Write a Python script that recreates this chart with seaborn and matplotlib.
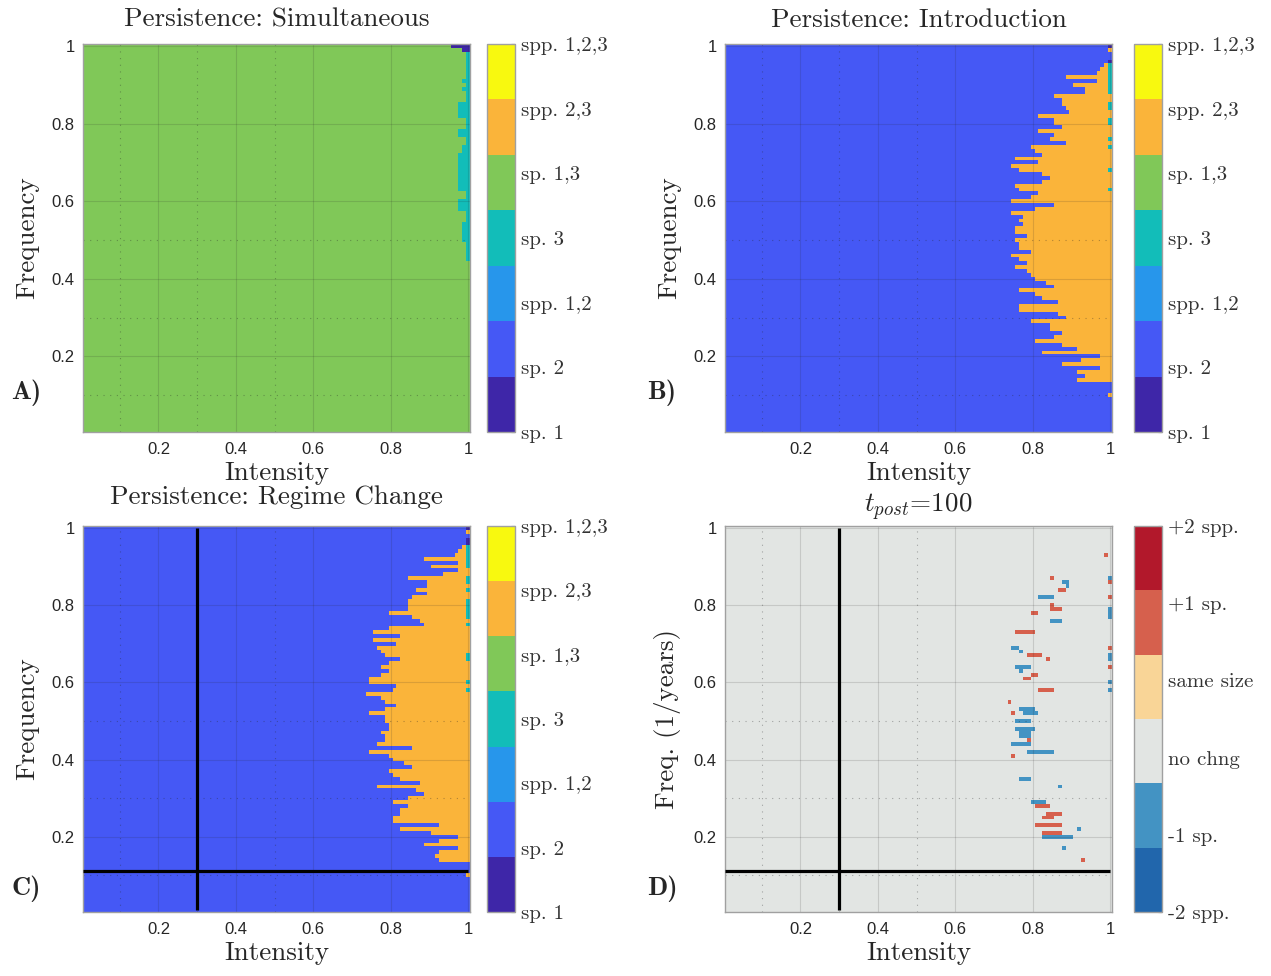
import numpy as np
import pandas as pd
import matplotlib
matplotlib.use("Agg")
import matplotlib.pyplot as plt
from matplotlib.colors import ListedColormap
import seaborn as sns

sns.set_theme(style="white")
plt.rcParams["font.family"] = ["Liberation Sans", "DejaVu Sans"]
plt.rcParams["mathtext.fontset"] = "cm"
plt.rcParams["axes.unicode_minus"] = False

SERIF = "cmr10"
SERIF_BOLD = "cmb10"

# ---------------------------------------------------------------------------
# Parameter grid (100 x 100): intensity along x, frequency along y (top row first)
# ---------------------------------------------------------------------------
intensity = np.round(np.arange(1, 101) / 100, 2)
frequency = np.round(np.arange(100, 0, -1) / 100, 2)

axis_ticks = [0.2, 0.4, 0.6, 0.8, 1.0]
axis_tick_labels = ["0.2", "0.4", "0.6", "0.8", "1"]
minor_grid = [0.1, 0.3, 0.5]

# Community states (codes 1..7)
state_labels = ["sp. 1", "sp. 2", "spp. 1,2", "sp. 3", "sp. 1,3", "spp. 2,3", "spp. 1,2,3"]
state_colors = ["#3e26a8", "#4558f5", "#2796eb", "#12bdb9", "#80c858", "#fab43a", "#f8f90f"]
SP1, SP2, SP12, SP3, SP13, SP23, SP123 = 1, 2, 3, 4, 5, 6, 7

# Change in community (codes 0..5)
change_labels = ["-2 spp.", "-1 sp.", "no chng", "same size", "+1 sp.", "+2 spp."]
change_colors = ["#2166ac", "#4393c3", "#e2e5e3", "#f9d597", "#d6604d", "#b2182b"]
LOSS1, NOCHANGE, GAIN1 = 1, 2, 4

# --- Simultaneous: sp. 1,3 everywhere, sp. 3 along the high-intensity edge
sim_sp1_freq = [1.00, 0.99]
sim_sp1_from = [0.96, 0.99]
sim_sp3_top = 0.98
sim_sp3_width = [1, 1, 1, 1, 1, 1, 1, 2, 1, 2, 1, 1, 1, 3, 3, 3, 3, 1, 1, 1,
                 3, 3, 1, 1, 2, 2, 3, 3, 3, 3, 3, 3, 3, 3, 3, 3, 1, 1, 3, 3,
                 3, 1, 1, 1, 2, 2, 2, 2, 2, 1, 1, 1, 1, 1]

# --- Introduction: intensity at which spp. 2,3 takes over (rows from freq 0.95 down)
intro_top = 0.95
intro_onset = [0.99, 0.98, 0.97, 0.89, 0.97, 0.91, 0.94, 0.94, 0.86, 0.88,
               0.88, 0.89, 0.90, 0.82, 0.86, 0.86, 0.88, 0.82, 0.86, 0.85,
               0.89, 0.80, 0.81, 0.83, 0.76, 0.82, 0.75, 0.77, 0.83,
               0.85, 0.83, 0.76, 0.77, 0.82, 0.80, 0.75, 0.86, 0.81, 0.75,
               0.78, 0.77, 0.78, 0.76, 0.76, 0.79, 0.76, 0.77, 0.77, 0.80,
               0.75, 0.77, 0.79, 0.76, 0.79, 0.80, 0.81, 0.84, 0.86, 0.77,
               0.81, 0.83, 0.87, 0.77,
               0.77, 0.87, 0.89, 0.80, 0.85, 0.85, 0.88, 0.86, 0.81, 0.88,
               0.92, 0.83, 0.98, 0.93, 0.88, 0.98, 0.92, 0.94, 0.92]
intro_edge_sp1 = [1.00, 0.96]
intro_edge_sp23 = [0.99, 0.10]
intro_edge_sp3 = [0.95, 0.94, 0.93, 0.92, 0.91, 0.90, 0.89, 0.88, 0.85, 0.84,
                  0.81, 0.80, 0.76, 0.74, 0.68, 0.63]

# --- Regime change
regime_top = 0.95
regime_onset = [0.99, 0.98, 0.97, 0.89, 0.98, 0.91, 0.98, 0.94, 0.85, 0.90,
                0.90, 0.87, 0.90, 0.86, 0.85, 0.85, 0.85, 0.80, 0.86, 0.88,
                0.89, 0.80, 0.76, 0.83, 0.76, 0.82, 0.77, 0.78, 0.79,
                0.83, 0.80, 0.78, 0.80, 0.78, 0.75, 0.75, 0.82, 0.81, 0.74,
                0.78, 0.79, 0.82, 0.79, 0.75, 0.79, 0.79, 0.80, 0.80, 0.78,
                0.79, 0.79, 0.77, 0.86, 0.75, 0.80, 0.81, 0.84, 0.86, 0.80,
                0.81, 0.83, 0.88, 0.77,
                0.87, 0.89, 0.85, 0.81, 0.85, 0.83, 0.83, 0.81, 0.81, 0.93,
                0.83, 0.91, 0.98, 0.93, 0.89, 0.98, 0.93, 0.92, 0.93]
regime_edge_sp1 = [1.00, 0.97, 0.96]
regime_edge_sp23 = [0.99, 0.88, 0.10]
regime_edge_sp3 = [0.95, 0.94, 0.93, 0.92, 0.91, 0.90, 0.87, 0.86, 0.84, 0.81,
                   0.80, 0.79, 0.78, 0.77, 0.75, 0.67, 0.66, 0.60, 0.58]

# --- Change after t_post = 100: runs of cells (frequency, first and last intensity)
gain_freq = [0.93, 0.87, 0.84, 0.80, 0.79, 0.78, 0.73, 0.67, 0.66, 0.62, 0.61,
             0.58, 0.55, 0.52, 0.45, 0.41, 0.28, 0.26, 0.25, 0.23, 0.21, 0.14,
             0.86, 0.82, 0.69, 0.64]
gain_lo = [0.99, 0.85, 0.87, 0.85, 0.85, 0.80, 0.76, 0.79, 0.84, 0.80, 0.78,
           0.82, 0.74, 0.75, 0.79, 0.75, 0.81, 0.84, 0.83, 0.81, 0.83, 0.93,
           1.00, 1.00, 1.00, 1.00]
gain_hi = [0.99, 0.85, 0.88, 0.85, 0.87, 0.81, 0.80, 0.82, 0.84, 0.81, 0.79,
           0.85, 0.74, 0.75, 0.79, 0.75, 0.84, 0.87, 0.85, 0.87, 0.87, 0.93,
           1.00, 1.00, 1.00, 1.00]
loss_freq = [0.86, 0.85, 0.82, 0.76, 0.69, 0.68, 0.64, 0.63, 0.53, 0.52, 0.50,
             0.48, 0.47, 0.46, 0.44, 0.42, 0.35, 0.33, 0.29, 0.22, 0.20, 0.17,
             0.87, 0.79, 0.78, 0.77, 0.67, 0.66, 0.60, 0.58]
loss_lo = [0.88, 0.89, 0.82, 0.85, 0.75, 0.77, 0.76, 0.77, 0.77, 0.78, 0.76,
           0.76, 0.77, 0.77, 0.75, 0.79, 0.77, 0.87, 0.80, 0.92, 0.83, 0.88,
           1.00, 1.00, 1.00, 1.00, 1.00, 1.00, 1.00, 1.00]
loss_hi = [0.89, 0.89, 0.85, 0.87, 0.76, 0.77, 0.79, 0.77, 0.80, 0.81, 0.79,
           0.80, 0.79, 0.79, 0.79, 0.85, 0.79, 0.87, 0.83, 0.92, 0.90, 0.88,
           1.00, 1.00, 1.00, 1.00, 1.00, 1.00, 1.00, 1.00]

# Threshold lines of the disturbance regime
regime_intensity = 0.3
regime_frequency = 0.11


def row_of(f):
    return int(round((1.0 - f) * 100))


def col_of(v):
    return int(round(v * 100)) - 1


def onset_grid(top, onset, base, fill):
    g = np.full((100, 100), base)
    for i, thr in enumerate(onset):
        g[row_of(top - i / 100), col_of(thr):] = fill
    return g


def set_edge(g, freqs, code):
    for f in freqs:
        g[row_of(f), col_of(1.0)] = code


# Simultaneous
grid_sim = np.full((100, 100), SP13)
for f, lo in zip(sim_sp1_freq, sim_sp1_from):
    grid_sim[row_of(f), col_of(lo):] = SP1
for i, w in enumerate(sim_sp3_width):
    grid_sim[row_of(sim_sp3_top - i / 100), 100 - w:] = SP3

# Introduction
grid_intro = onset_grid(intro_top, intro_onset, SP2, SP23)
set_edge(grid_intro, intro_edge_sp3, SP3)
set_edge(grid_intro, intro_edge_sp1, SP1)
set_edge(grid_intro, intro_edge_sp23, SP23)

# Regime change
grid_regime = onset_grid(regime_top, regime_onset, SP2, SP23)
set_edge(grid_regime, regime_edge_sp3, SP3)
set_edge(grid_regime, regime_edge_sp1, SP1)
set_edge(grid_regime, regime_edge_sp23, SP23)

# Change map
grid_change = np.full((100, 100), NOCHANGE)
for f, lo, hi in zip(gain_freq, gain_lo, gain_hi):
    grid_change[row_of(f), col_of(lo):col_of(hi) + 1] = GAIN1
for f, lo, hi in zip(loss_freq, loss_lo, loss_hi):
    grid_change[row_of(f), col_of(lo):col_of(hi) + 1] = LOSS1


def xpos(v):
    return np.asarray(v, dtype=float) * 100 - 0.5


def ypos(v):
    return 100.5 - np.asarray(v, dtype=float) * 100


W, H = 1271, 976
fig = plt.figure(figsize=(W / 100, H / 100), dpi=100)


def rect(x0, y0, x1, y1):
    return [x0 / W, 1 - y1 / H, (x1 - x0) / W, (y1 - y0) / H]


def draw_panel(box, cbox, grid, colors, labels, vmin, vmax, title, ylabel,
               letter, letter_xy, title_pad, lines=False):
    ax = fig.add_axes(rect(*box))
    cax = fig.add_axes(rect(*cbox))
    df = pd.DataFrame(grid, index=frequency, columns=intensity)
    sns.heatmap(df, ax=ax, cbar_ax=cax, cmap=ListedColormap(colors),
                vmin=vmin, vmax=vmax, xticklabels=False, yticklabels=False)

    grid_rgb = (0.15, 0.15, 0.15)
    for v in axis_ticks:
        ax.axvline(xpos(v), color=grid_rgb, alpha=0.15, lw=0.8, zorder=1.5)
        ax.axhline(ypos(v), color=grid_rgb, alpha=0.15, lw=0.8, zorder=1.5)
    for v in minor_grid:
        ax.axvline(xpos(v), color=grid_rgb, alpha=0.35, lw=0.8,
                   ls=(0, (1, 5)), zorder=1.5)
        ax.axhline(ypos(v), color=grid_rgb, alpha=0.35, lw=0.8,
                   ls=(0, (1, 5)), zorder=1.5)

    if lines:
        ax.plot(xpos([regime_intensity, regime_intensity]), ypos([0.01, 1.0]),
                color="black", lw=2.3, zorder=3, solid_capstyle="butt")
        ax.plot(xpos([0.005, 1.0]), ypos([regime_frequency, regime_frequency]),
                color="black", lw=2.3, zorder=3, solid_capstyle="butt")

    ax.set_xlim(0, 100)
    ax.set_ylim(100, 0)
    ax.set_xticks(xpos(axis_ticks))
    ax.set_xticklabels(axis_tick_labels)
    ax.set_yticks(ypos(axis_ticks))
    ax.set_yticklabels(axis_tick_labels)
    ax.tick_params(axis="both", which="major", direction="in", length=4,
                   width=0.8, color="#262626", top=True, right=True,
                   bottom=True, left=True, labelsize=12, labelcolor="#262626")
    ax.tick_params(axis="x", pad=7)
    ax.tick_params(axis="y", pad=6)
    for s in ax.spines.values():
        s.set_visible(True)
        s.set_color("#a0a0a0")
        s.set_linewidth(1.0)

    ax.set_title(title, fontfamily=SERIF, fontsize=19.5, pad=title_pad)
    ax.set_xlabel("Intensity", fontfamily=SERIF, fontsize=19.5, labelpad=3)
    ax.set_ylabel(ylabel, fontfamily=SERIF, fontsize=19.5, labelpad=9)

    cbar = ax.collections[0].colorbar
    cbar.set_ticks(np.arange(vmin, vmax + 1))
    cbar.set_ticklabels(labels)
    cbar.ax.tick_params(direction="in", length=3, width=0.8, color="#262626",
                        pad=4, right=True)
    for lbl in cbar.ax.get_yticklabels():
        lbl.set_fontfamily(SERIF)
        lbl.set_fontsize(15)
        lbl.set_color("#333333")
    cbar.outline.set_visible(True)
    cbar.outline.set_edgecolor("#a0a0a0")
    cbar.outline.set_linewidth(1.0)

    fig.text(letter_xy[0] / W, 1 - letter_xy[1] / H, letter,
             fontfamily=SERIF_BOLD, fontsize=19, va="center", ha="left")
    return ax


draw_panel((83, 44, 470, 432), (487, 44, 515, 432), grid_sim, state_colors,
           state_labels, 1, 7, "Persistence: Simultaneous", "Frequency",
           "A)", (11, 393), 12.5)
draw_panel((725, 44, 1112, 432), (1134, 44, 1162, 432), grid_intro,
           state_colors, state_labels, 1, 7, "Persistence: Introduction",
           "Frequency", "B)", (647, 393), 12.5)
draw_panel((83, 526, 470, 912), (487, 526, 515, 912), grid_regime,
           state_colors, state_labels, 1, 7, "Persistence: Regime Change",
           "Frequency", "C)", (11, 889), 16, lines=True)
draw_panel((725, 526, 1112, 912), (1134, 526, 1162, 912), grid_change,
           change_colors, change_labels, 0, 5, r"$t_{post}$=100",
           "Freq. (1/years)", "D)", (647, 889), 10, lines=True)

fig.savefig("out.png", dpi=100)
